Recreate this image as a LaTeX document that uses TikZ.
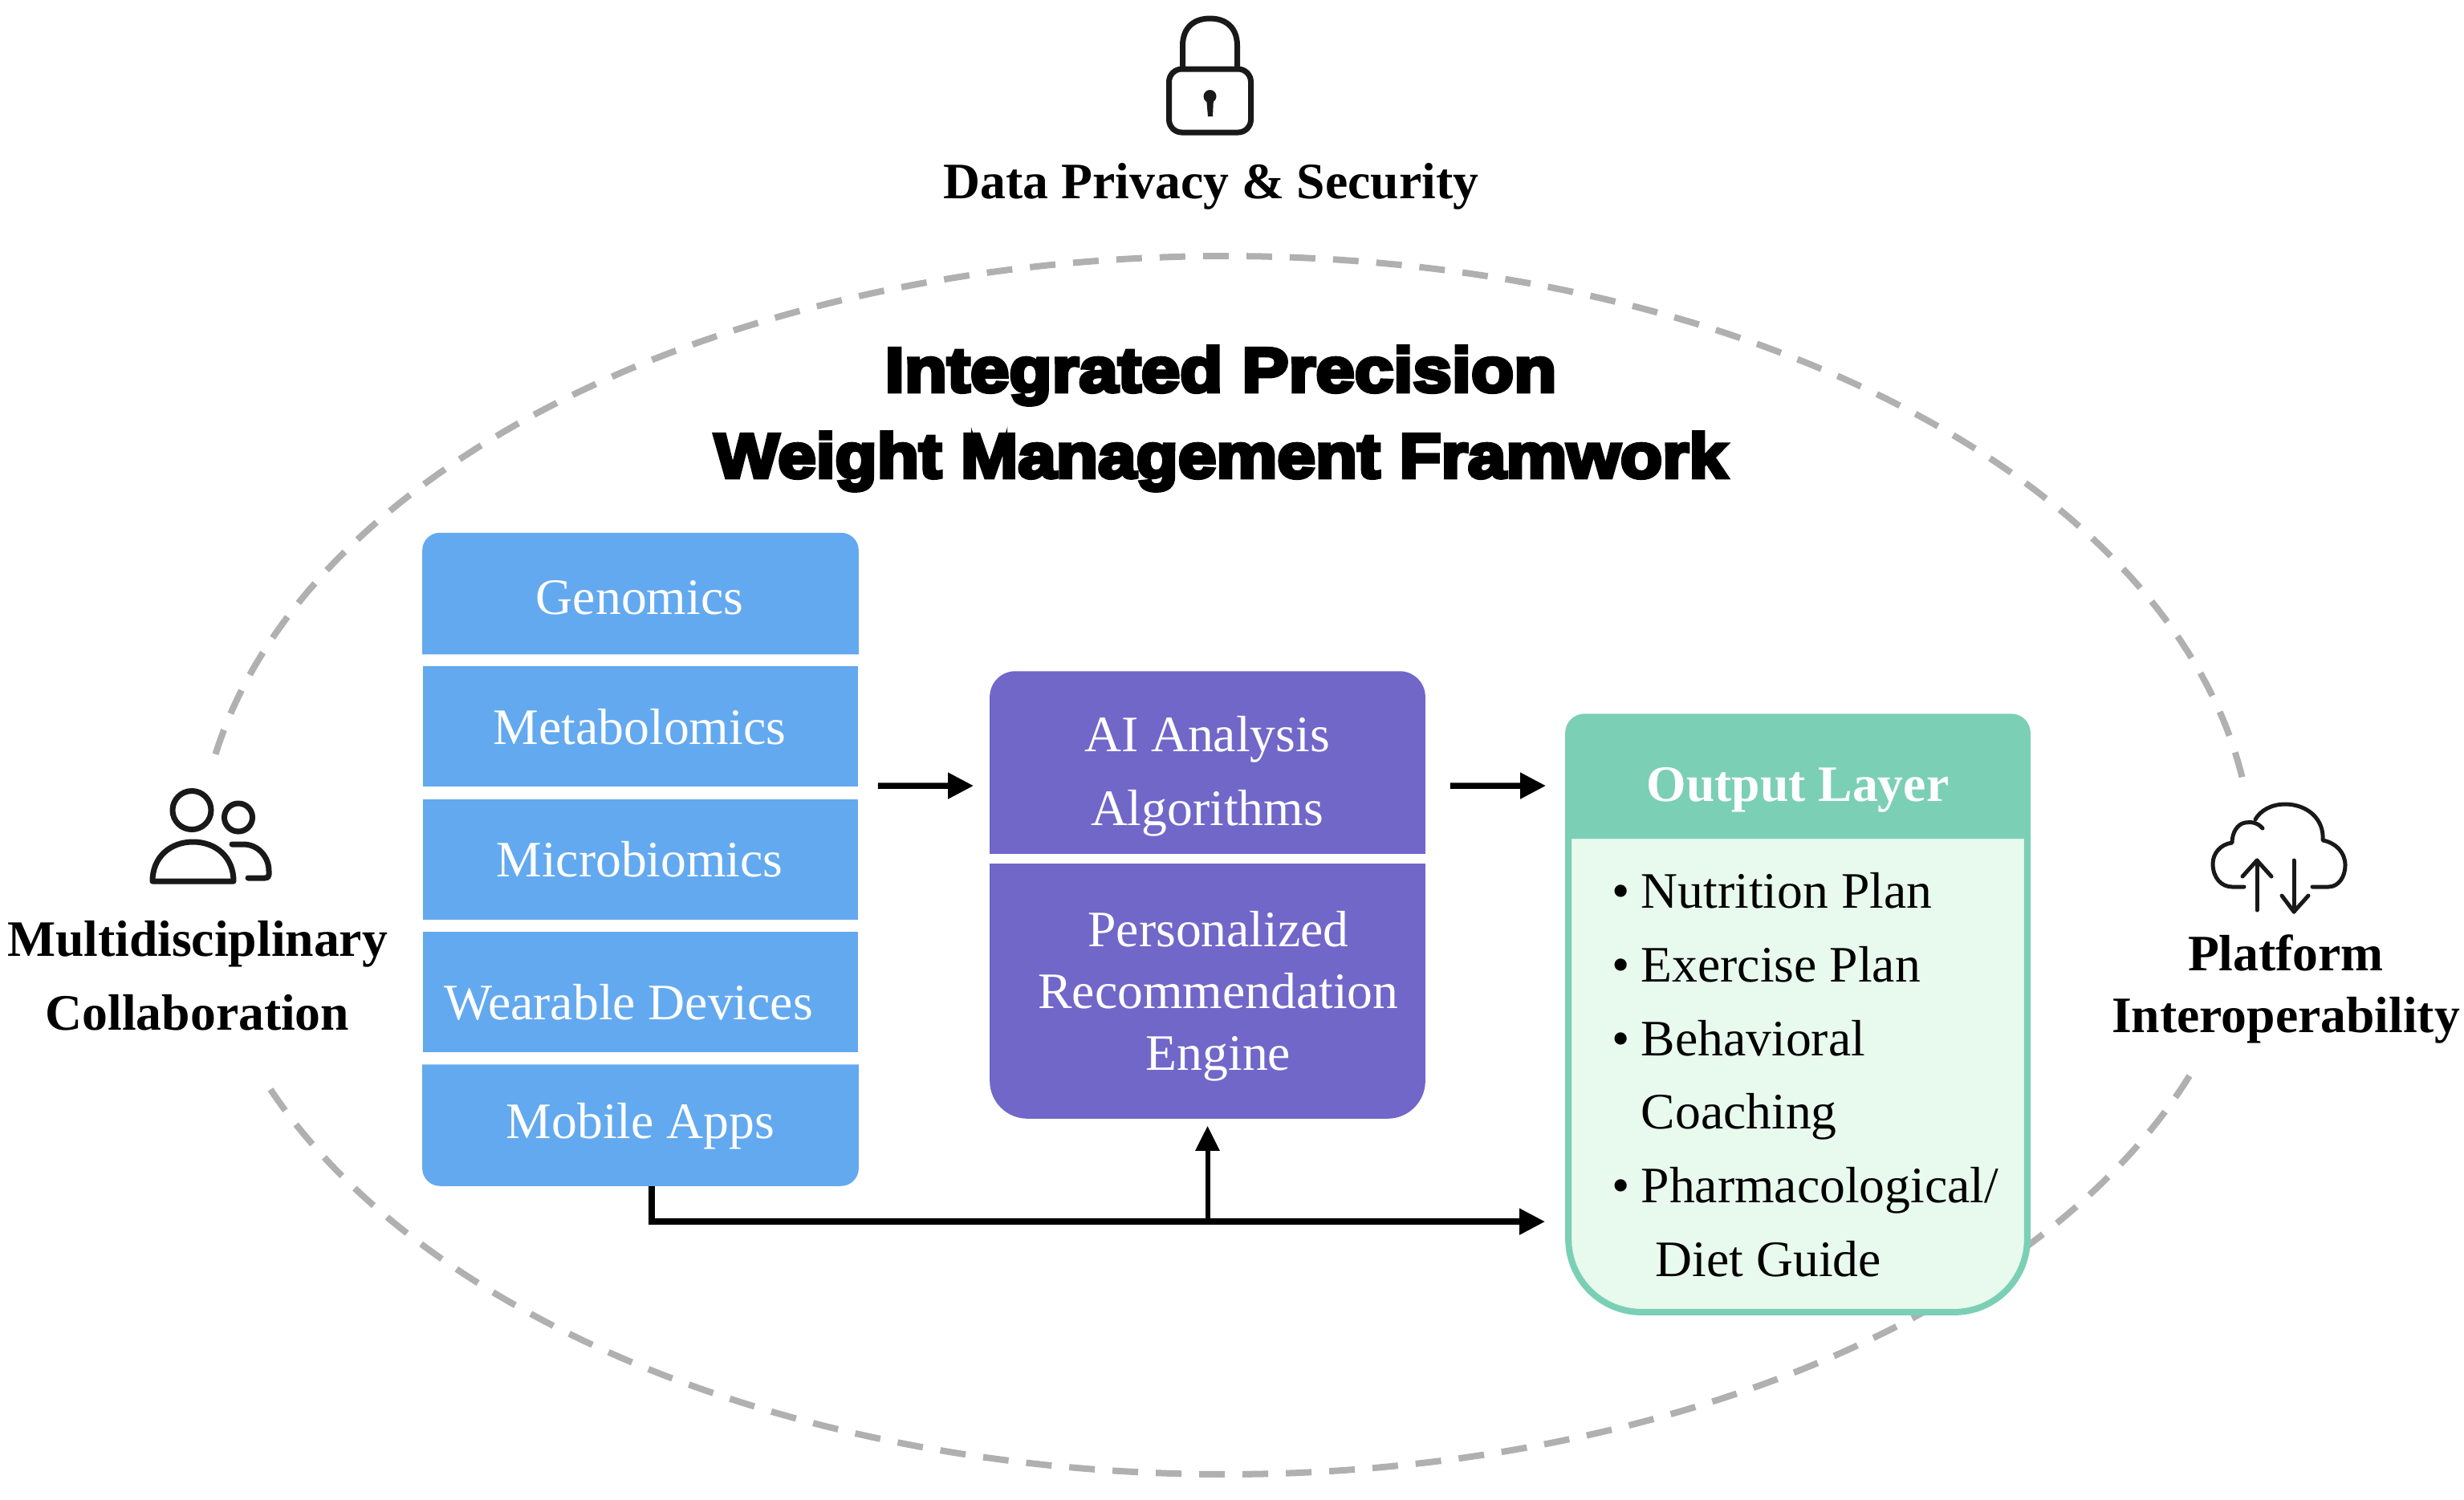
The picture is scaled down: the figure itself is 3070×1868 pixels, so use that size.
\documentclass[tikz,border=0pt]{standalone}
\usepackage{fontspec}
\setmainfont{Liberation Serif}
\newfontfamily\titlefont[FakeBold=6,FakeStretch=1.115]{Liberation Sans Bold}
\newfontfamily\titlefontwide[FakeBold=6,FakeStretch=1.095]{Liberation Sans Bold}
\usetikzlibrary{positioning,calc,arrows.meta}
\definecolor{srcblue}{RGB}{99, 169, 239}
\definecolor{enginepurple}{RGB}{113, 103, 201}
\definecolor{outputteal}{RGB}{123, 207, 181}
\definecolor{outputfill}{RGB}{232, 249, 238}
\definecolor{ringgray}{RGB}{176, 176, 176}
\newcommand{\dotitem}{\makebox[.36cm][l]{\textbullet}}

\begin{document}
\begin{tikzpicture}[
    x=0.01cm, y=-0.01cm,
    font=\fontsize{18.1}{25.9}\selectfont,
    srcbox/.style={rectangle, fill=srcblue, inner sep=0pt, minimum width=5.42cm, minimum height=1.5cm},
    boxtext/.style={anchor=base, inner sep=0pt, text=white, align=center},
    sidetext/.style={anchor=base, inner sep=0pt, font=\fontsize{18.1}{25.9}\selectfont\bfseries, align=center},
    flowarrow/.style={line width=.075cm, -{Triangle[length=.32cm,width=.31cm]}},
    ring/.style={ringgray, line width=.08cm, dash pattern=on .32cm off .22cm},
    iconline/.style={line width=.07cm, line cap=round, line join=round, black!90}
]
    \useasboundingbox (0,0) rectangle (3070,1868);

    % Dashed ring, open at the side labels
    \draw[ring] plot[domain=-169.5:-7.6, samples=150] ({1527+1280*cos(\x)},{1078+759*sin(\x)});
    \draw[ring] plot[domain=158.4:20.2, samples=150] ({1527+1280*cos(\x)},{1078+759*sin(\x)});

    % Data sources
    \node[srcbox, fill=none] (genomics) at (798,739.5) {};
    \node[srcbox] (metabolomics) at (798,905) {};
    \node[srcbox] (microbiomics) at (798,1071) {};
    \node[srcbox] (wearable) at (798,1236) {};
    \node[srcbox, fill=none] (mobile) at (798,1402) {};
    \fill[srcblue, rounded corners=.22cm] (genomics.south west) -- (genomics.north west) -- (genomics.north east) [sharp corners] -- (genomics.south east) -- cycle;
    \fill[srcblue, rounded corners=.22cm] (mobile.north west) -- (mobile.south west) -- (mobile.south east) [sharp corners] -- (mobile.north east) -- cycle;

    % Engine
    \node[rectangle, inner sep=0pt, minimum width=5.41cm, minimum height=2.26cm] (aibox) at (1504.5,950) {};
    \node[rectangle, inner sep=0pt, minimum width=5.41cm, minimum height=3.16cm] (recommend) at (1504.5,1235) {};
    \fill[enginepurple, rounded corners=.32cm] (aibox.south west) -- (aibox.north west) -- (aibox.north east) [sharp corners] -- (aibox.south east) -- cycle;
    \fill[enginepurple, rounded corners=.47cm] (recommend.north west) -- (recommend.south west) -- (recommend.south east) [sharp corners] -- (recommend.north east) -- cycle;

    % Output layer
    \node[rectangle, inner sep=0pt, minimum width=5.78cm, minimum height=1.52cm] (outhead) at (2240,966) {};
    \node[rectangle, inner sep=0pt, minimum width=5.70cm, minimum height=5.92cm] (outbody) at (2240,1338) {};
    \draw[fill=outputfill, draw=outputteal, line width=.08cm, rounded corners=.91cm] (outbody.north west) -- (outbody.south west) -- (outbody.south east) [sharp corners] -- (outbody.north east) -- cycle;
    \fill[outputteal, rounded corners=.24cm] (outhead.south west) -- (outhead.north west) -- (outhead.north east) [sharp corners] -- (outhead.south east) -- cycle;

    % Box texts
    \foreach \n/\x/\y/\t in {tgen/797/765/Genomics, tmet/797/927/Metabolomics, tmic/797/1092/Microbiomics, twear/783/1270/Wearable Devices, tmob/798/1418/Mobile Apps} {
        \node[boxtext] (\n) at (\x,\y) {\t};
    }
    \node[boxtext] (tai) at (1504,1028) {AI Analysis\\Algorithms};
    \node[boxtext, font=\fontsize{18.1}{21.8}\selectfont] (trec) at (1518,1333) {Personalized\\Recommendation\\Engine};
    \node[boxtext, font=\fontsize{18.1}{25.9}\selectfont\bfseries] (thead) at (2240,998) {Output Layer};
    \node[anchor=base west, inner sep=0pt, align=left, font=\fontsize{18.1}{26.05}\selectfont] (tlist) at (2008,1590) {%
        \dotitem Nutrition Plan\\
        \dotitem Exercise Plan\\
        \dotitem Behavioral\\
        \hspace*{.36cm}Coaching\\
        \dotitem Pharmacological/\\
        \hspace*{.54cm}Diet Guide};

    % Title
    \node[anchor=base, inner sep=0pt] (title1) at (1521,488) {\fontsize{22.2}{30}\titlefont Integrated Precision};
    \node[anchor=base, inner sep=0pt] (title2) at (1521,595) {\fontsize{22.2}{30}\titlefontwide Weight Management Framwork};

    % Connectors
    \draw[flowarrow, shorten <=.24cm, shorten >=.20cm] ([yshift=-.74cm]metabolomics.east) -- ([yshift=-.29cm]aibox.west);
    \draw[flowarrow, shorten <=.31cm, shorten >=.24cm] ([yshift=-.29cm]aibox.east) -- ([yshift=-.13cm]outhead.west);
    \coordinate (busend) at ([yshift=-1.84cm]outbody.west);
    \coordinate (branch) at (recommend.south |- busend);
    \draw[flowarrow, shorten >=.29cm] ([xshift=.14cm]mobile.south) |- (busend);
    \draw[flowarrow, line width=.06cm, -{Triangle[length=.31cm,width=.29cm]}, shorten >=.09cm] (branch) -- (recommend.south);

    % Lock icon
    \draw[iconline, rounded corners=.16cm] (1456.5,86) rectangle (1558.5,165);
    \draw[iconline] (1473.5,84) -- (1473.5,57) .. controls (1473.5,33) and (1489,23) .. (1507.5,23) .. controls (1526,23) and (1541.5,33) .. (1541.5,57) -- (1541.5,84);
    \fill[black!90] (1507.5,120) circle[radius=.08cm];
    \fill[black!90] (1503,122) -- (1512,122) -- (1511,145) -- (1505,145) -- cycle;
    \node[sidetext] (privacy) at (1509,247) {Data Privacy \& Security};

    % People icon
    \draw[iconline] (239,1009.5) circle[radius=.24cm];
    \draw[iconline] (297,1018.5) circle[radius=.175cm];
    \draw[iconline] (190,1098) .. controls (190,1068) and (212,1049) .. (240.5,1049) .. controls (269,1049) and (291,1068) .. (291,1098) -- cycle;
    \draw[iconline] (289,1052) -- (303,1052) .. controls (322,1052) and (335,1068) .. (335,1085) -- (335,1090) .. controls (335,1093) and (333,1094) .. (330,1094) -- (309,1094);
    \node[sidetext] (multi) at (246,1283) {Multidisciplinary\\Collaboration};

    % Cloud icon
    \begin{scope}[iconline, line width=.05cm]
        \draw (2881,1105) -- (2901,1105) .. controls (2914,1105) and (2922,1092) .. (2922,1078) .. controls (2922,1062) and (2910,1050) .. (2894,1047)
              .. controls (2896,1020) and (2874,1002) .. (2847,1002) .. controls (2830,1002) and (2816,1010) .. (2810,1021);
        \draw (2819,1032) .. controls (2812,1024) and (2804,1024) .. (2797,1025) .. controls (2787,1027) and (2781,1038) .. (2781,1050)
              .. controls (2766,1052) and (2757,1064) .. (2757,1076) .. controls (2757,1094) and (2768,1105) .. (2781,1105) -- (2796,1105);
        \draw (2812,1134) -- (2812,1072);
        \draw (2794,1092) -- (2812,1072) -- (2830,1092);
        \draw (2858,1072) -- (2858,1136);
        \draw (2843,1116) -- (2858,1136) -- (2876,1116);
    \end{scope}
    \node[sidetext, font=\fontsize{18.1}{21.9}\selectfont\bfseries] (platform) at (2848,1286) {Platform\\Interoperability};
\end{tikzpicture}
\end{document}
